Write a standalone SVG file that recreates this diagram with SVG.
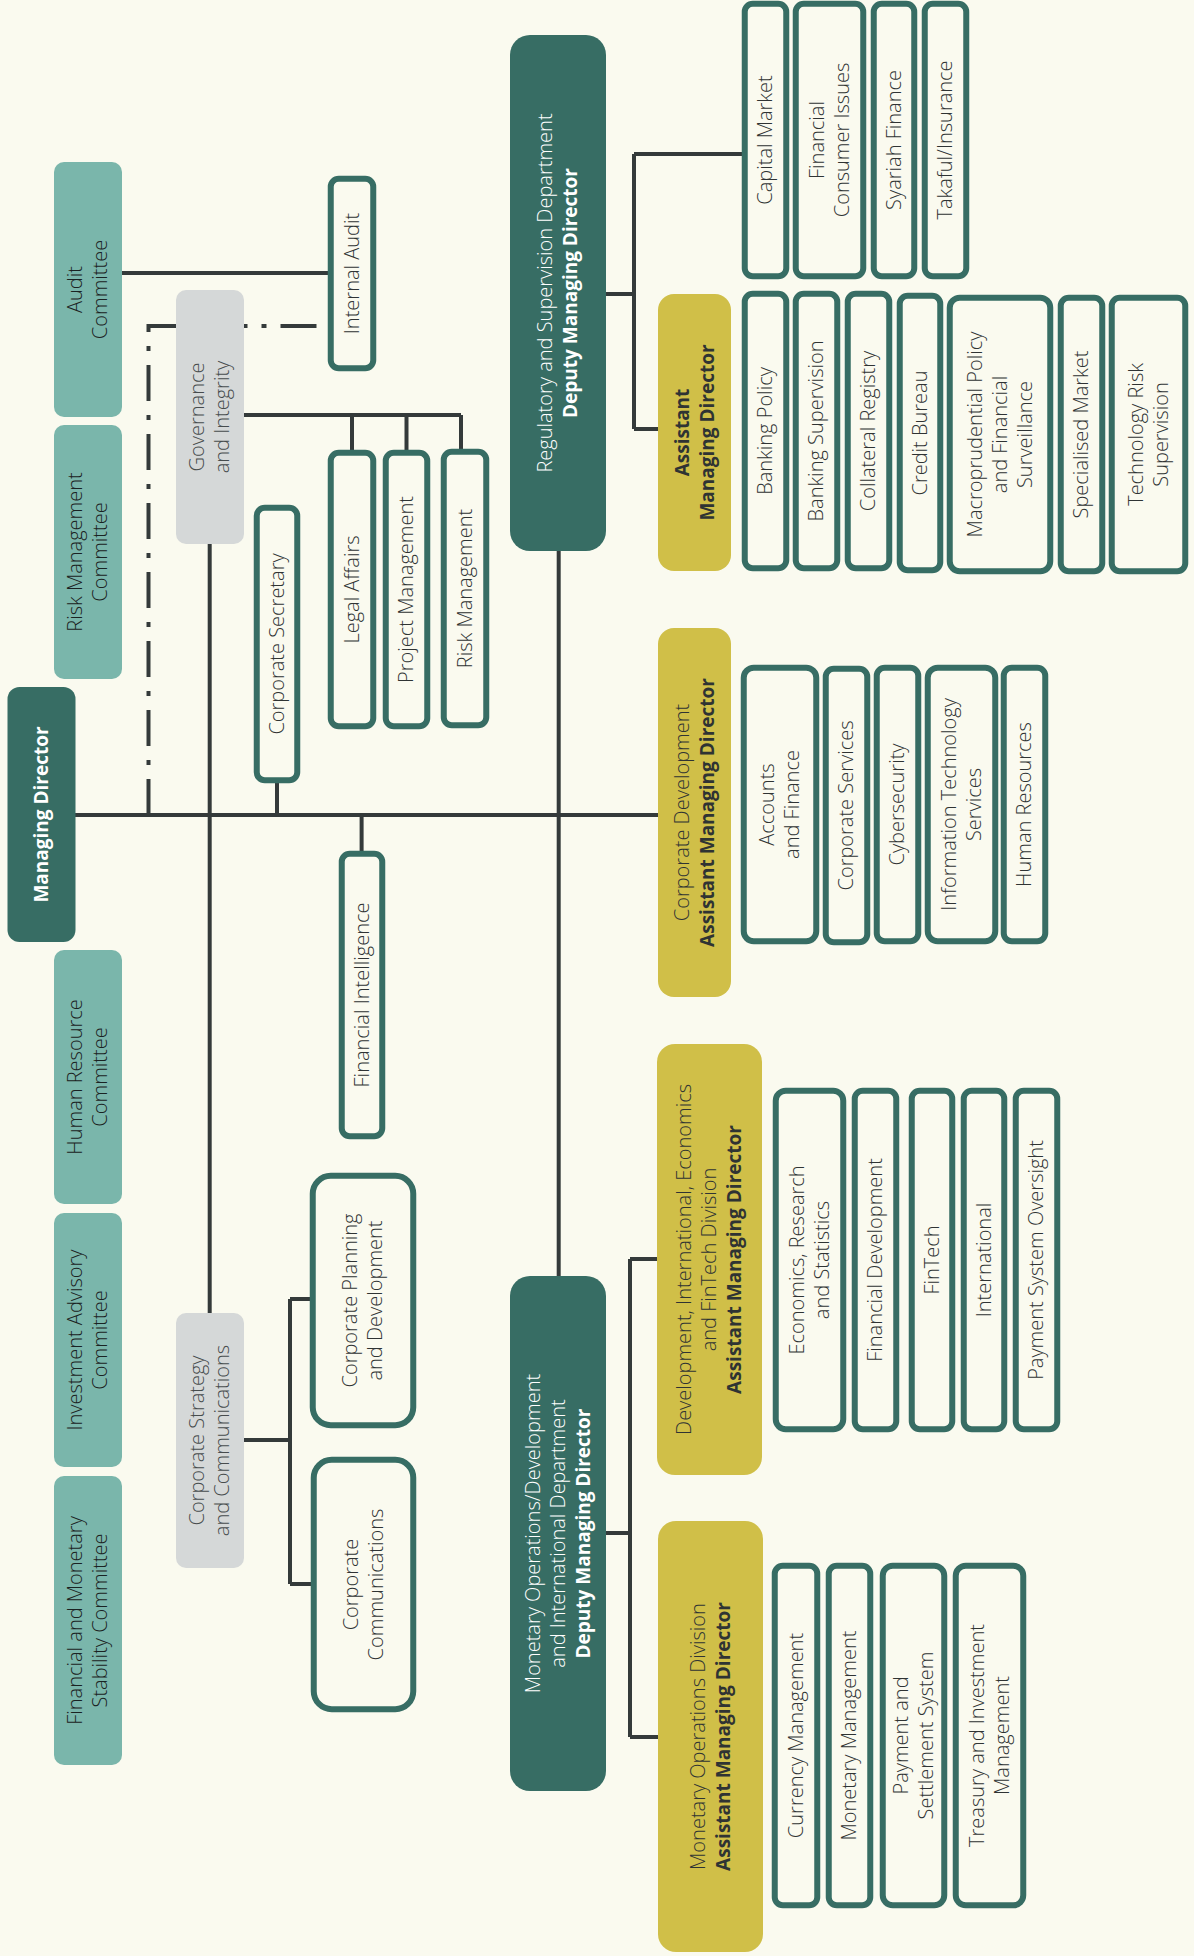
<svg xmlns="http://www.w3.org/2000/svg" width="1194" height="1956" viewBox="0 0 1194 1956">
<style>
text{font-family:"Open Sans","Noto Sans","DejaVu Sans",sans-serif;font-size:20px;font-weight:300;text-anchor:middle}
.t{fill:#2f3333}
.k{fill:#1a2222}
.g{fill:#474c4d}
.w{fill:#ffffff}
.b{font-weight:700;font-size:19px}
.ob{fill:#fafaef;stroke:#376d64;stroke-width:6}
.cm{fill:#7ab6ab}
.gr{fill:#d5d8d8}
.dk{fill:#376d64}
.yl{fill:#d0bf48}
.ln{fill:none;stroke:#343a3a;stroke-width:4}
.dd{stroke-dasharray:36 14 5 14}
</style>
<rect width="1194" height="1956" fill="#fafaef"/>
<g id="connectors">
<path class="ln" d="M122,273 H328"/>
<path class="ln dd" d="M148.5,815 V326 H328"/>
<path class="ln" d="M244,415 H461 M352,415 V452 M406.5,415 V452 M461,415 V451"/>
<path class="ln" d="M209.7,544 V1313"/>
<path class="ln" d="M75,815 H658"/>
<path class="ln" d="M277,782 V815"/>
<path class="ln" d="M361.6,815 V853"/>
<path class="ln" d="M558.7,551 V1276"/>
<path class="ln" d="M606,294 H634 M634,154 V429 M634,154 H744 M634,429 H658"/>
<path class="ln" d="M244,1440 H290 M290,1299 V1584 M290,1299 H313 M290,1584 H313"/>
<path class="ln" d="M606,1533 H630 M630,1259 V1737 M630,1259 H657 M630,1737 H658"/>
</g>
<g id="audit-committee"><rect class="cm" x="54" y="162" width="68" height="255" rx="10"/><text class="k" transform="translate(88,289.5) rotate(-90)"><tspan x="0" y="-6">Audit</tspan><tspan x="0" y="19">Committee</tspan></text></g>
<g id="risk-committee"><rect class="cm" x="54" y="425" width="68" height="254" rx="10"/><text class="k" transform="translate(88,552) rotate(-90)"><tspan x="0" y="-6">Risk Management</tspan><tspan x="0" y="19">Committee</tspan></text></g>
<g id="hr-committee"><rect class="cm" x="54" y="950" width="68" height="254" rx="10"/><text class="k" transform="translate(88,1077) rotate(-90)"><tspan x="0" y="-6">Human Resource</tspan><tspan x="0" y="19">Committee</tspan></text></g>
<g id="investment-committee"><rect class="cm" x="54" y="1213" width="68" height="254" rx="10"/><text class="k" transform="translate(88,1340) rotate(-90)"><tspan x="0" y="-6">Investment  Advisory</tspan><tspan x="0" y="19">Committee</tspan></text></g>
<g id="fms-committee"><rect class="cm" x="54" y="1476" width="68" height="289" rx="10"/><text class="k" transform="translate(88,1620.5) rotate(-90)"><tspan x="0" y="-6">Financial and Monetary</tspan><tspan x="0" y="19">Stability Committee</tspan></text></g>
<g id="managing-director"><rect class="dk" x="7.5" y="687" width="68" height="255" rx="12"/><text class="w b" transform="translate(41.5,814.5) rotate(-90)"><tspan x="0" y="6.5">Managing Director</tspan></text></g>
<g id="governance"><rect class="gr" x="176" y="290" width="68" height="254" rx="10"/><text class="g" transform="translate(210,417) rotate(-90)"><tspan x="0" y="-6">Governance</tspan><tspan x="0" y="19">and Integrity</tspan></text></g>
<g id="corporate-strategy"><rect class="gr" x="176" y="1313" width="68" height="255" rx="10"/><text class="g" transform="translate(210,1440.5) rotate(-90)"><tspan x="0" y="-6">Corporate Strategy</tspan><tspan x="0" y="19">and Communications</tspan></text></g>
<g id="internal-audit"><rect class="ob" x="330.75" y="178.75" width="42.5" height="189.5" rx="8"/><text class="t" transform="translate(352,273.5) rotate(-90)"><tspan x="0" y="6.5">Internal Audit</tspan></text></g>
<g id="legal-affairs"><rect class="ob" x="330.75" y="452.75" width="42.5" height="273.5" rx="8"/><text class="t" transform="translate(352,589.5) rotate(-90)"><tspan x="0" y="6.5">Legal Affairs</tspan></text></g>
<g id="project-management"><rect class="ob" x="385.75" y="452.75" width="41.5" height="273.5" rx="8"/><text class="t" transform="translate(406.5,589.5) rotate(-90)"><tspan x="0" y="6.5">Project Management</tspan></text></g>
<g id="risk-management"><rect class="ob" x="443.75" y="451.75" width="42.5" height="273.5" rx="8"/><text class="t" transform="translate(465,588.5) rotate(-90)"><tspan x="0" y="6.5">Risk Management</tspan></text></g>
<g id="corporate-secretary"><rect class="ob" x="256.75" y="507.75" width="40.5" height="272.5" rx="8"/><text class="t" transform="translate(277,644) rotate(-90)"><tspan x="0" y="6.5">Corporate Secretary</tspan></text></g>
<g id="financial-intelligence"><rect class="ob" x="341.75" y="853.75" width="40.5" height="282.5" rx="8"/><text class="t" transform="translate(362,995) rotate(-90)"><tspan x="0" y="6.5">Financial Intelligence</tspan></text></g>
<g id="corporate-planning"><rect class="ob" x="312.75" y="1175.75" width="100.5" height="249.5" rx="18"/><text class="t" transform="translate(363,1300.5) rotate(-90)"><tspan x="0" y="-6">Corporate Planning</tspan><tspan x="0" y="19">and Development</tspan></text></g>
<g id="corporate-communications"><rect class="ob" x="313.75" y="1459.75" width="99.5" height="249.5" rx="18"/><text class="t" transform="translate(363.5,1584.5) rotate(-90)"><tspan x="0" y="-6">Corporate</tspan><tspan x="0" y="19">Communications</tspan></text></g>
<g id="regulatory-dmd"><rect class="dk" x="510" y="35" width="96" height="516" rx="20"/><text class="w" transform="translate(558,293) rotate(-90)"><tspan x="0" y="-6">Regulatory and Supervision Department</tspan><tspan class="b" x="0" y="19">Deputy Managing Director</tspan></text></g>
<g id="monetary-dmd"><rect class="dk" x="510" y="1276" width="96" height="515" rx="20"/><text class="w" transform="translate(558,1533.5) rotate(-90)"><tspan x="0" y="-18.5">Monetary Operations/Development</tspan><tspan x="0" y="6.5">and International Department</tspan><tspan class="b" x="0" y="31.5">Deputy Managing Director</tspan></text></g>
<g id="regulatory-amd"><rect class="yl" x="658" y="294" width="73" height="277" rx="16"/><text class="t b" transform="translate(694.5,432.5) rotate(-90)"><tspan x="0" y="-6">Assistant</tspan><tspan x="0" y="19">Managing Director</tspan></text></g>
<g id="capital-market"><rect class="ob" x="744.75" y="3.75" width="41.5" height="272.5" rx="8"/><text class="t" transform="translate(765.5,140) rotate(-90)"><tspan x="0" y="6.5">Capital Market</tspan></text></g>
<g id="financial-consumer"><rect class="ob" x="795.75" y="3.75" width="67.5" height="272.5" rx="8"/><text class="t" transform="translate(829.5,140) rotate(-90)"><tspan x="0" y="-6">Financial</tspan><tspan x="0" y="19">Consumer Issues</tspan></text></g>
<g id="syariah-finance"><rect class="ob" x="873.75" y="3.75" width="40.5" height="272.5" rx="8"/><text class="t" transform="translate(894,140) rotate(-90)"><tspan x="0" y="6.5">Syariah Finance</tspan></text></g>
<g id="takaful"><rect class="ob" x="924.75" y="3.75" width="41.5" height="272.5" rx="8"/><text class="t" transform="translate(945.5,140) rotate(-90)"><tspan x="0" y="6.5">Takaful/Insurance</tspan></text></g>
<g id="banking-policy"><rect class="ob" x="744.75" y="293.75" width="41.5" height="274.5" rx="8"/><text class="t" transform="translate(765.5,431) rotate(-90)"><tspan x="0" y="6.5">Banking Policy</tspan></text></g>
<g id="banking-supervision"><rect class="ob" x="795.75" y="293.75" width="41.5" height="274.5" rx="8"/><text class="t" transform="translate(816.5,431) rotate(-90)"><tspan x="0" y="6.5">Banking Supervision</tspan></text></g>
<g id="collateral-registry"><rect class="ob" x="847.75" y="293.75" width="41.5" height="274.5" rx="8"/><text class="t" transform="translate(868.5,431) rotate(-90)"><tspan x="0" y="6.5">Collateral Registry</tspan></text></g>
<g id="credit-bureau"><rect class="ob" x="899.75" y="295.75" width="40.5" height="274.5" rx="8"/><text class="t" transform="translate(920,433) rotate(-90)"><tspan x="0" y="6.5">Credit Bureau</tspan></text></g>
<g id="macroprudential"><rect class="ob" x="949.75" y="297.75" width="100.5" height="273.5" rx="10"/><text class="t" transform="translate(1000,434.5) rotate(-90)"><tspan x="0" y="-18.5">Macroprudential Policy</tspan><tspan x="0" y="6.5">and Financial</tspan><tspan x="0" y="31.5">Surveillance</tspan></text></g>
<g id="specialised-market"><rect class="ob" x="1060.75" y="297.75" width="41.5" height="273.5" rx="8"/><text class="t" transform="translate(1081.5,434.5) rotate(-90)"><tspan x="0" y="6.5">Specialised Market</tspan></text></g>
<g id="technology-risk"><rect class="ob" x="1111.75" y="297.75" width="73.5" height="273.5" rx="8"/><text class="t" transform="translate(1148.5,434.5) rotate(-90)"><tspan x="0" y="-6">Technology Risk</tspan><tspan x="0" y="19">Supervision</tspan></text></g>
<g id="corporate-development-amd"><rect class="yl" x="658" y="628" width="73" height="369" rx="16"/><text class="t" transform="translate(694.5,812.5) rotate(-90)"><tspan x="0" y="-6">Corporate Development</tspan><tspan class="b" x="0" y="19">Assistant Managing Director</tspan></text></g>
<g id="accounts-finance"><rect class="ob" x="743.75" y="667.75" width="72.5" height="273.5" rx="10"/><text class="t" transform="translate(780,804.5) rotate(-90)"><tspan x="0" y="-6">Accounts</tspan><tspan x="0" y="19">and Finance</tspan></text></g>
<g id="corporate-services"><rect class="ob" x="825.75" y="668.75" width="41.5" height="273.5" rx="8"/><text class="t" transform="translate(846.5,805.5) rotate(-90)"><tspan x="0" y="6.5">Corporate Services</tspan></text></g>
<g id="cybersecurity"><rect class="ob" x="876.75" y="667.75" width="41.5" height="273.5" rx="8"/><text class="t" transform="translate(897.5,804.5) rotate(-90)"><tspan x="0" y="6.5">Cybersecurity</tspan></text></g>
<g id="it-services"><rect class="ob" x="927.75" y="667.75" width="67.5" height="273.5" rx="10"/><text class="t" transform="translate(961.5,804.5) rotate(-90)"><tspan x="0" y="-6">Information Technology</tspan><tspan x="0" y="19">Services</tspan></text></g>
<g id="human-resources"><rect class="ob" x="1003.75" y="667.75" width="41.5" height="273.5" rx="8"/><text class="t" transform="translate(1024.5,804.5) rotate(-90)"><tspan x="0" y="6.5">Human Resources</tspan></text></g>
<g id="development-amd"><rect class="yl" x="657" y="1044" width="105" height="431" rx="18"/><text class="t" transform="translate(709.5,1259.5) rotate(-90)"><tspan x="0" y="-18.5">Development, International, Economics</tspan><tspan x="0" y="6.5">and FinTech Division</tspan><tspan class="b" x="0" y="31.5">Assistant Managing Director</tspan></text></g>
<g id="economics"><rect class="ob" x="775.75" y="1090.75" width="67.5" height="338.5" rx="10"/><text class="t" transform="translate(809.5,1260) rotate(-90)"><tspan x="0" y="-6">Economics, Research</tspan><tspan x="0" y="19">and Statistics</tspan></text></g>
<g id="financial-development"><rect class="ob" x="854.75" y="1090.75" width="41.5" height="338.5" rx="8"/><text class="t" transform="translate(875.5,1260) rotate(-90)"><tspan x="0" y="6.5">Financial Development</tspan></text></g>
<g id="fintech"><rect class="ob" x="911.75" y="1090.75" width="40.5" height="338.5" rx="8"/><text class="t" transform="translate(932,1260) rotate(-90)"><tspan x="0" y="6.5">FinTech</tspan></text></g>
<g id="international"><rect class="ob" x="963.75" y="1090.75" width="40.5" height="338.5" rx="8"/><text class="t" transform="translate(984,1260) rotate(-90)"><tspan x="0" y="6.5">International</tspan></text></g>
<g id="payment-oversight"><rect class="ob" x="1015.75" y="1090.75" width="41.5" height="338.5" rx="8"/><text class="t" transform="translate(1036.5,1260) rotate(-90)"><tspan x="0" y="6.5">Payment System Oversight</tspan></text></g>
<g id="monetary-ops-amd"><rect class="yl" x="658" y="1521" width="105" height="431" rx="18"/><text class="t" transform="translate(710.5,1736.5) rotate(-90)"><tspan x="0" y="-6">Monetary Operations Division</tspan><tspan class="b" x="0" y="19">Assistant Managing Director</tspan></text></g>
<g id="currency-management"><rect class="ob" x="774.75" y="1565.75" width="42.5" height="339.5" rx="8"/><text class="t" transform="translate(796,1735.5) rotate(-90)"><tspan x="0" y="6.5">Currency Management</tspan></text></g>
<g id="monetary-management"><rect class="ob" x="828.75" y="1565.75" width="41.5" height="339.5" rx="8"/><text class="t" transform="translate(849.5,1735.5) rotate(-90)"><tspan x="0" y="6.5">Monetary Management</tspan></text></g>
<g id="payment-settlement"><rect class="ob" x="882.75" y="1565.75" width="61.5" height="339.5" rx="10"/><text class="t" transform="translate(913.5,1735.5) rotate(-90)"><tspan x="0" y="-6">Payment and</tspan><tspan x="0" y="19">Settlement  System</tspan></text></g>
<g id="treasury"><rect class="ob" x="955.75" y="1565.75" width="67.5" height="339.5" rx="10"/><text class="t" transform="translate(989.5,1735.5) rotate(-90)"><tspan x="0" y="-6">Treasury and Investment</tspan><tspan x="0" y="19">Management</tspan></text></g>
</svg>
